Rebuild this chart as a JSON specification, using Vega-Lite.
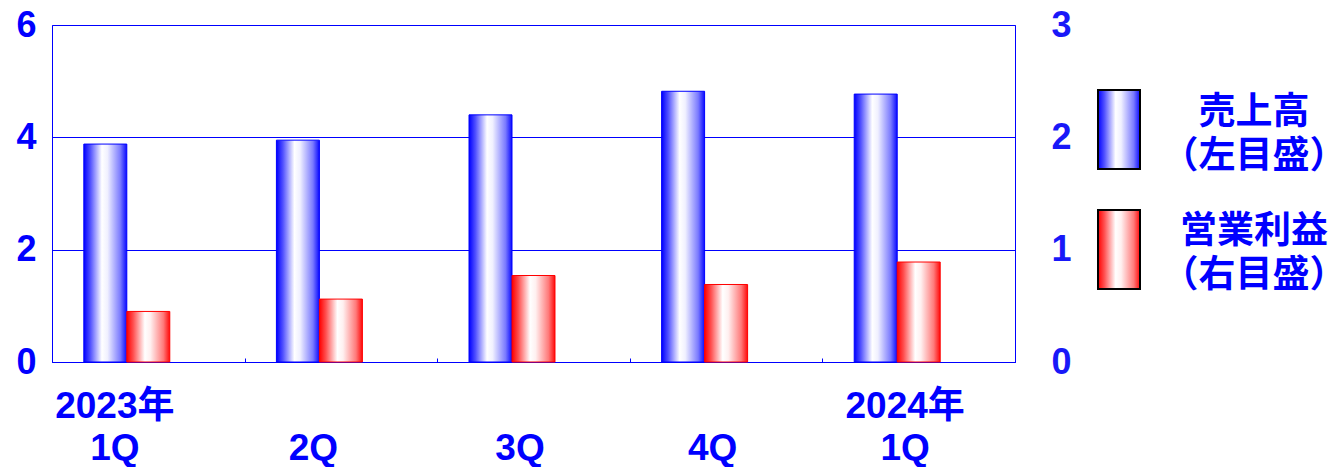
{
  "$schema": "https://vega.github.io/schema/vega-lite/v6.json",
  "autosize": {"type": "pad"},
  "padding": {"left": 15, "top": 6, "right": 0, "bottom": 0},
  "background": "white",
  "spacing": 25,
  "config": {
    "view": {"stroke": "#0000ff", "strokeWidth": 1},
    "font": "Liberation Sans, Noto Sans CJK JP"
  },
  "hconcat": [
    {
      "width": 963,
      "height": 337,
      "data": {
        "values": [
          {"q": "2023年1Q", "s": "売上高", "v": 3.88},
          {"q": "2Q", "s": "売上高", "v": 3.95},
          {"q": "3Q", "s": "売上高", "v": 4.4},
          {"q": "4Q", "s": "売上高", "v": 4.82},
          {"q": "2024年1Q", "s": "売上高", "v": 4.77},
          {"q": "2023年1Q", "s": "営業利益", "v": 0.45},
          {"q": "2Q", "s": "営業利益", "v": 0.56},
          {"q": "3Q", "s": "営業利益", "v": 0.77},
          {"q": "4Q", "s": "営業利益", "v": 0.69},
          {"q": "2024年1Q", "s": "営業利益", "v": 0.89}
        ]
      },
      "encoding": {
        "x": {
          "field": "q",
          "type": "nominal",
          "sort": null,
          "title": null,
          "scale": {"paddingInner": 0, "paddingOuter": 0},
          "axis": {
            "labelAngle": 0,
            "labelExpr": "datum.value === '2023年1Q' ? ['2023年','1Q'] : datum.value === '2024年1Q' ? ['2024年','1Q'] : ['', datum.value]",
            "labelFont": "Liberation Sans, Noto Sans CJK JP",
            "labelFontSize": 37,
            "labelFontWeight": "bold",
            "labelColor": "#0000ff",
            "labelBaseline": "top",
            "labelLineHeight": 42,
            "labelPadding": 30,
            "labelOffset": {
              "condition": [
                {"test": "datum.value === '2023年1Q'", "value": -34},
                {"test": "datum.value === '2Q'", "value": -28}
              ],
              "value": -14
            },
            "domainColor": "#0000ff",
            "domainWidth": 1,
            "ticks": true,
            "tickBand": "extent",
            "tickSize": -4,
            "tickColor": "#0000ff",
            "grid": false
          }
        },
        "xOffset": {
          "field": "s",
          "type": "nominal",
          "scale": {"domain": ["売上高", "営業利益", "_"], "paddingInner": 0, "paddingOuter": 0.74}
        }
      },
      "layer": [
        {
          "transform": [{"filter": "datum.s === '売上高'"}],
          "mark": {
            "type": "bar",
            "fill": {
              "gradient": "linear", "x1": 0, "x2": 1, "y1": 0, "y2": 0,
              "stops": [
                {"offset": 0, "color": "#0000ff"},
                {"offset": 0.15, "color": "#5050ff"},
                {"offset": 0.42, "color": "#ffffff"},
                {"offset": 0.55, "color": "#f0f0ff"},
                {"offset": 0.85, "color": "#7a7aff"},
                {"offset": 1, "color": "#0a0aff"}
              ]
            },
            "stroke": "#0000ff",
            "strokeWidth": 1
          },
          "encoding": {
            "y": {
              "field": "v",
              "type": "quantitative",
              "title": null,
              "scale": {"domain": [0, 6]},
              "axis": {
                "values": [0, 2, 4, 6],
                "domain": false,
                "ticks": false,
                "grid": true,
                "gridColor": "#0000ff",
                "gridWidth": 1,
                "labelFontSize": 36,
                "labelFontWeight": "bold",
                "labelColor": "#0000ff",
                "labelPadding": 16
              }
            }
          }
        },
        {
          "transform": [{"filter": "datum.s === '営業利益'"}],
          "mark": {
            "type": "bar",
            "fill": {
              "gradient": "linear", "x1": 0, "x2": 1, "y1": 0, "y2": 0,
              "stops": [
                {"offset": 0, "color": "#ff0000"},
                {"offset": 0.15, "color": "#ff5050"},
                {"offset": 0.42, "color": "#ffffff"},
                {"offset": 0.55, "color": "#fff0f0"},
                {"offset": 0.85, "color": "#ff7a7a"},
                {"offset": 1, "color": "#ff0a0a"}
              ]
            },
            "stroke": "#ff0000",
            "strokeWidth": 1
          },
          "encoding": {
            "y": {
              "field": "v",
              "type": "quantitative",
              "title": null,
              "scale": {"domain": [0, 3]},
              "axis": {
                "orient": "right",
                "values": [0, 1, 2, 3],
                "domain": false,
                "ticks": false,
                "grid": false,
                "labelFontSize": 36,
                "labelFontWeight": "bold",
                "labelColor": "#1818f8",
                "labelAlign": "center",
                "labelPadding": 46
              }
            }
          }
        }
      ],
      "resolve": {"scale": {"y": "independent"}}
    },
    {
      "width": 42,
      "height": 329,
      "view": {"stroke": null},
      "data": {
        "values": [
          {"s": "売上高", "l": "売上高\n（左目盛）"},
          {"s": "営業利益", "l": "営業利益\n（右目盛）"}
        ]
      },
      "encoding": {
        "y": {
          "field": "s",
          "type": "nominal",
          "sort": null,
          "axis": null,
          "scale": {"domain": ["売上高", "営業利益"], "paddingInner": 0, "paddingOuter": 0.371}
        }
      },
      "layer": [
        {
          "transform": [{"filter": "datum.s === '売上高'"}],
          "mark": {
            "type": "bar",
            "height": {"band": 0.658},
            "fill": {
              "gradient": "linear", "x1": 0, "x2": 1, "y1": 0, "y2": 0,
              "stops": [
                {"offset": 0, "color": "#0000ff"},
                {"offset": 0.15, "color": "#5050ff"},
                {"offset": 0.42, "color": "#ffffff"},
                {"offset": 0.55, "color": "#f0f0ff"},
                {"offset": 0.85, "color": "#7a7aff"},
                {"offset": 1, "color": "#0a0aff"}
              ]
            },
            "stroke": "#000000",
            "strokeWidth": 2
          }
        },
        {
          "transform": [{"filter": "datum.s === '営業利益'"}],
          "mark": {
            "type": "bar",
            "height": {"band": 0.658},
            "fill": {
              "gradient": "linear", "x1": 0, "x2": 1, "y1": 0, "y2": 0,
              "stops": [
                {"offset": 0, "color": "#ff0000"},
                {"offset": 0.15, "color": "#ff5050"},
                {"offset": 0.42, "color": "#ffffff"},
                {"offset": 0.55, "color": "#fff0f0"},
                {"offset": 0.85, "color": "#ff7a7a"},
                {"offset": 1, "color": "#ff0a0a"}
              ]
            },
            "stroke": "#000000",
            "strokeWidth": 2
          }
        },
        {
          "mark": {
            "type": "text",
            "font": "Noto Sans CJK JP",
            "fontSize": 37,
            "fontWeight": "bold",
            "color": "#0000ff",
            "align": "center",
            "baseline": "middle",
            "lineBreak": "\n",
            "lineHeight": 44,
            "dx": 135,
            "dy": -17
          },
          "encoding": {
            "text": {"field": "l", "type": "nominal"}
          }
        }
      ]
    }
  ]
}
